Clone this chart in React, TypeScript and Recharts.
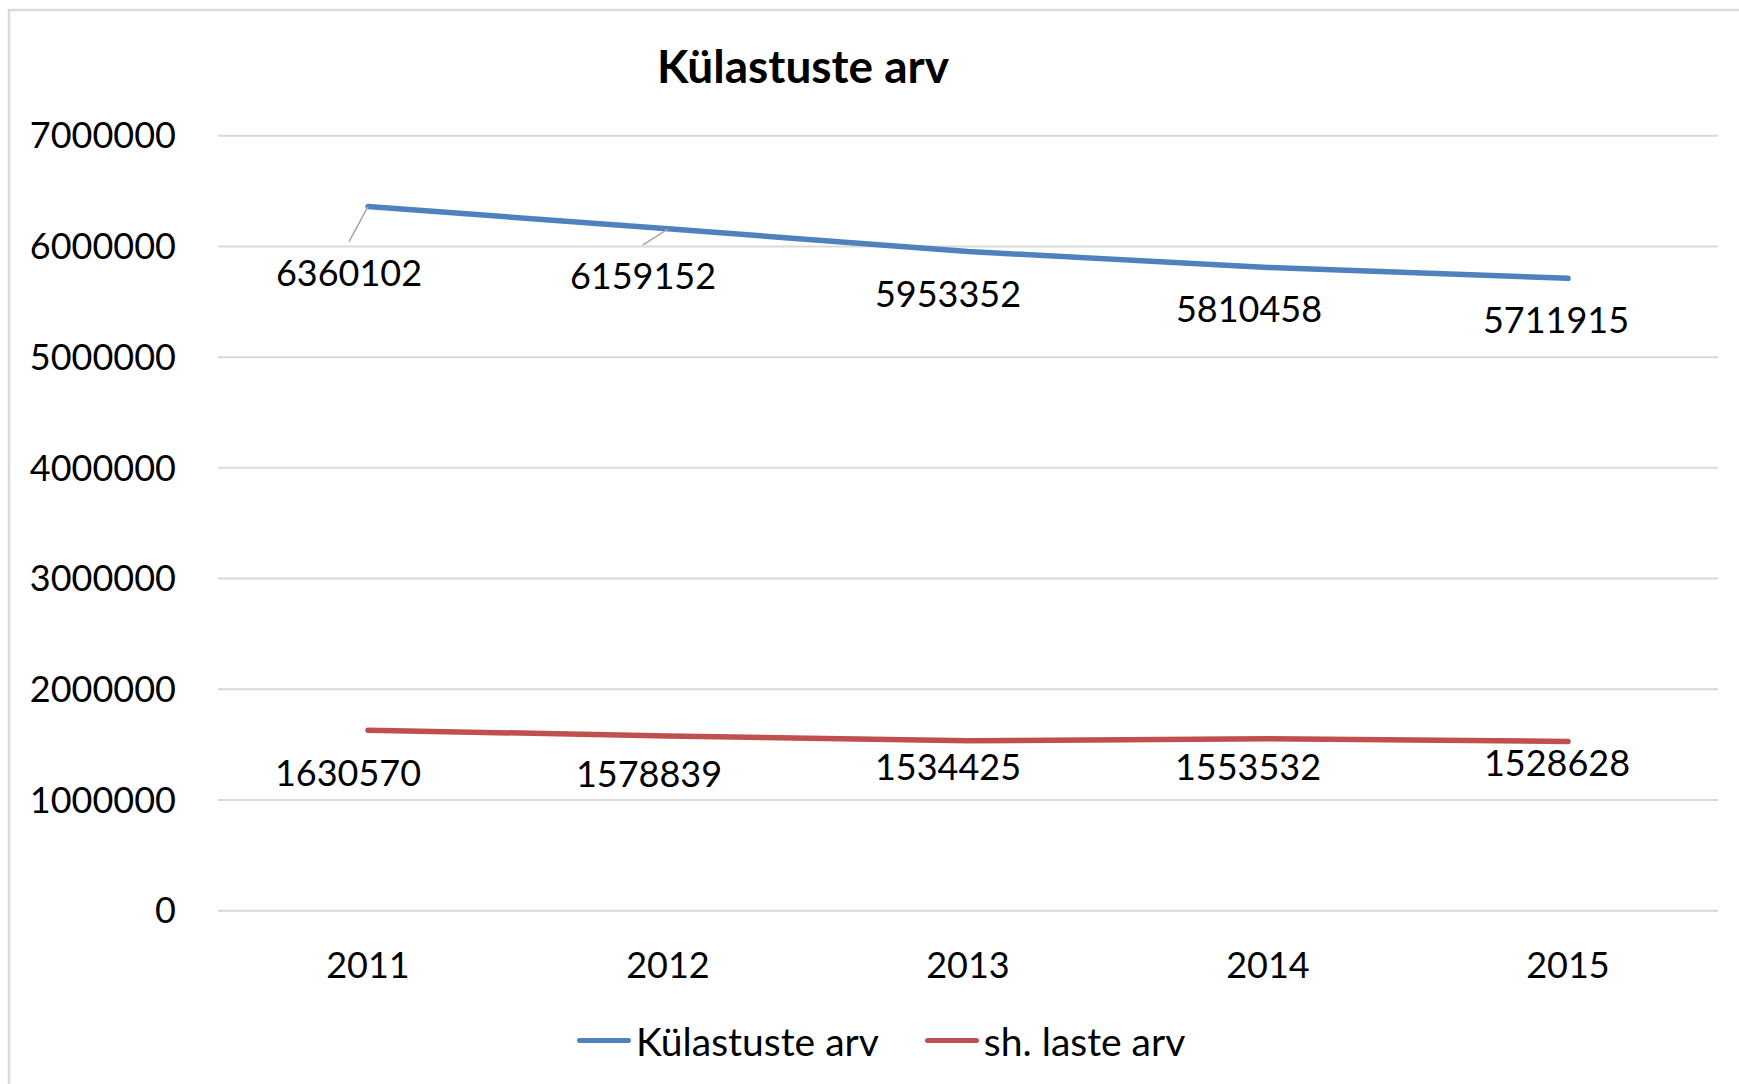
import { LineChart, Line, XAxis, YAxis, CartesianGrid, Legend, LabelList, Customized } from "recharts";

const years = ["2011", "2012", "2013", "2014", "2015"];
const visits = [6360102, 6159152, 5953352, 5810458, 5711915];
const children = [1630570, 1578839, 1534425, 1553532, 1528628];
const yTicks = [0, 1000000, 2000000, 3000000, 4000000, 5000000, 6000000, 7000000];

const SERIES_VISITS = "Külastuste arv";
const SERIES_CHILDREN = "sh. laste arv";

// label placement relative to the point (Excel put them below-left)
const visitsNudge = [[-19, 66], [-25, 47], [-20, 42], [-19, 42], [-12, 42]];
const childrenNudge = [[-20, 43], [-19, 38], [-20, 26], [-20, 28], [-11, 22]];

const BLUE = "#4F81BD";
const RED = "#C0504D";
const GRID = "#d9d9d9";
const FONT = "Lato, 'Open Sans', sans-serif";
const FS = 36;

const data = years.map((y, i) => ({ year: y, visits: visits[i], children: children[i] }));

function makeLabel(nudge: number[][]) {
  return (props: any) => {
    const { x, y, value, index } = props;
    const [dx, dy] = nudge[index] || [0, 30];
    const cx = x + dx;
    const cy = y + dy;
    return (
      <g>
        {dy > 45 && (
          <line x1={cx} y1={cy - 31} x2={x} y2={y} stroke="#a6a6a6" strokeWidth={1.5} />
        )}
        <text x={cx} y={cy + 13} textAnchor="middle" fill="#000" fontSize={FS} fontFamily={FONT}>
          {value}
        </text>
      </g>
    );
  };
}

function Frame() {
  return (
    <g>
      <path d="M 9 1084 L 9 10 L 1739 10" fill="none" stroke={GRID} strokeWidth={2.5} />
      <text x={803} y={83} textAnchor="middle" fontSize={46} fontWeight="bold" fontFamily={FONT} fill="#000">
        Külastuste arv
      </text>
    </g>
  );
}

function LegendBox() {
  const item = (color: string, label: string) => (
    <div style={{ display: "flex", alignItems: "center" }}>
      <div style={{ width: 54, height: 5, background: color, borderRadius: 3, marginRight: 5 }} />
      <span style={{ fontSize: 39, fontFamily: FONT, color: "#000", lineHeight: "40px" }}>{label}</span>
    </div>
  );
  return (
    <div style={{ display: "flex", height: 40, paddingLeft: 577, gap: 46, alignItems: "center" }}>
      {item(BLUE, SERIES_VISITS)}
      {item(RED, SERIES_CHILDREN)}
    </div>
  );
}

export default function App() {
  return (
    <div style={{ position: "absolute", left: 0, top: 0, width: 1739, height: 1084, background: "#fff" }}>
      <LineChart
        width={1739}
        height={1084}
        data={data}
        margin={{ top: 135.7, right: 21, left: 0, bottom: 23.3 }}
        style={{ fontFamily: FONT }}
      >
        <Customized component={Frame} />
        <CartesianGrid vertical={false} stroke={GRID} strokeWidth={2} />
        <XAxis
          dataKey="year"
          padding={{ left: 150, right: 150 }}
          axisLine={false}
          tickLine={false}
          tickSize={0}
          tickMargin={42}
          height={110}
          tick={{ fill: "#000", fontSize: FS, fontFamily: FONT }}
        />
        <YAxis
          domain={[0, 7000000]}
          ticks={yTicks}
          width={218}
          axisLine={false}
          tickLine={false}
          tickSize={0}
          tickMargin={42}
          tickFormatter={(v) => String(v)}
          tick={{ fill: "#000", fontSize: FS, fontFamily: FONT }}
        />
        <Legend
          verticalAlign="bottom"
          wrapperStyle={{ left: 0, width: 1739 }}
          content={() => <LegendBox />}
        />
        <Line
          type="linear"
          dataKey="visits"
          name={SERIES_VISITS}
          stroke={BLUE}
          strokeWidth={5.5}
          strokeLinecap="round"
          dot={false}
          isAnimationActive={false}
        >
          <LabelList dataKey="visits" content={makeLabel(visitsNudge)} />
        </Line>
        <Line
          type="linear"
          dataKey="children"
          name={SERIES_CHILDREN}
          stroke={RED}
          strokeWidth={5.5}
          strokeLinecap="round"
          dot={false}
          isAnimationActive={false}
        >
          <LabelList dataKey="children" content={makeLabel(childrenNudge)} />
        </Line>
      </LineChart>
    </div>
  );
}
